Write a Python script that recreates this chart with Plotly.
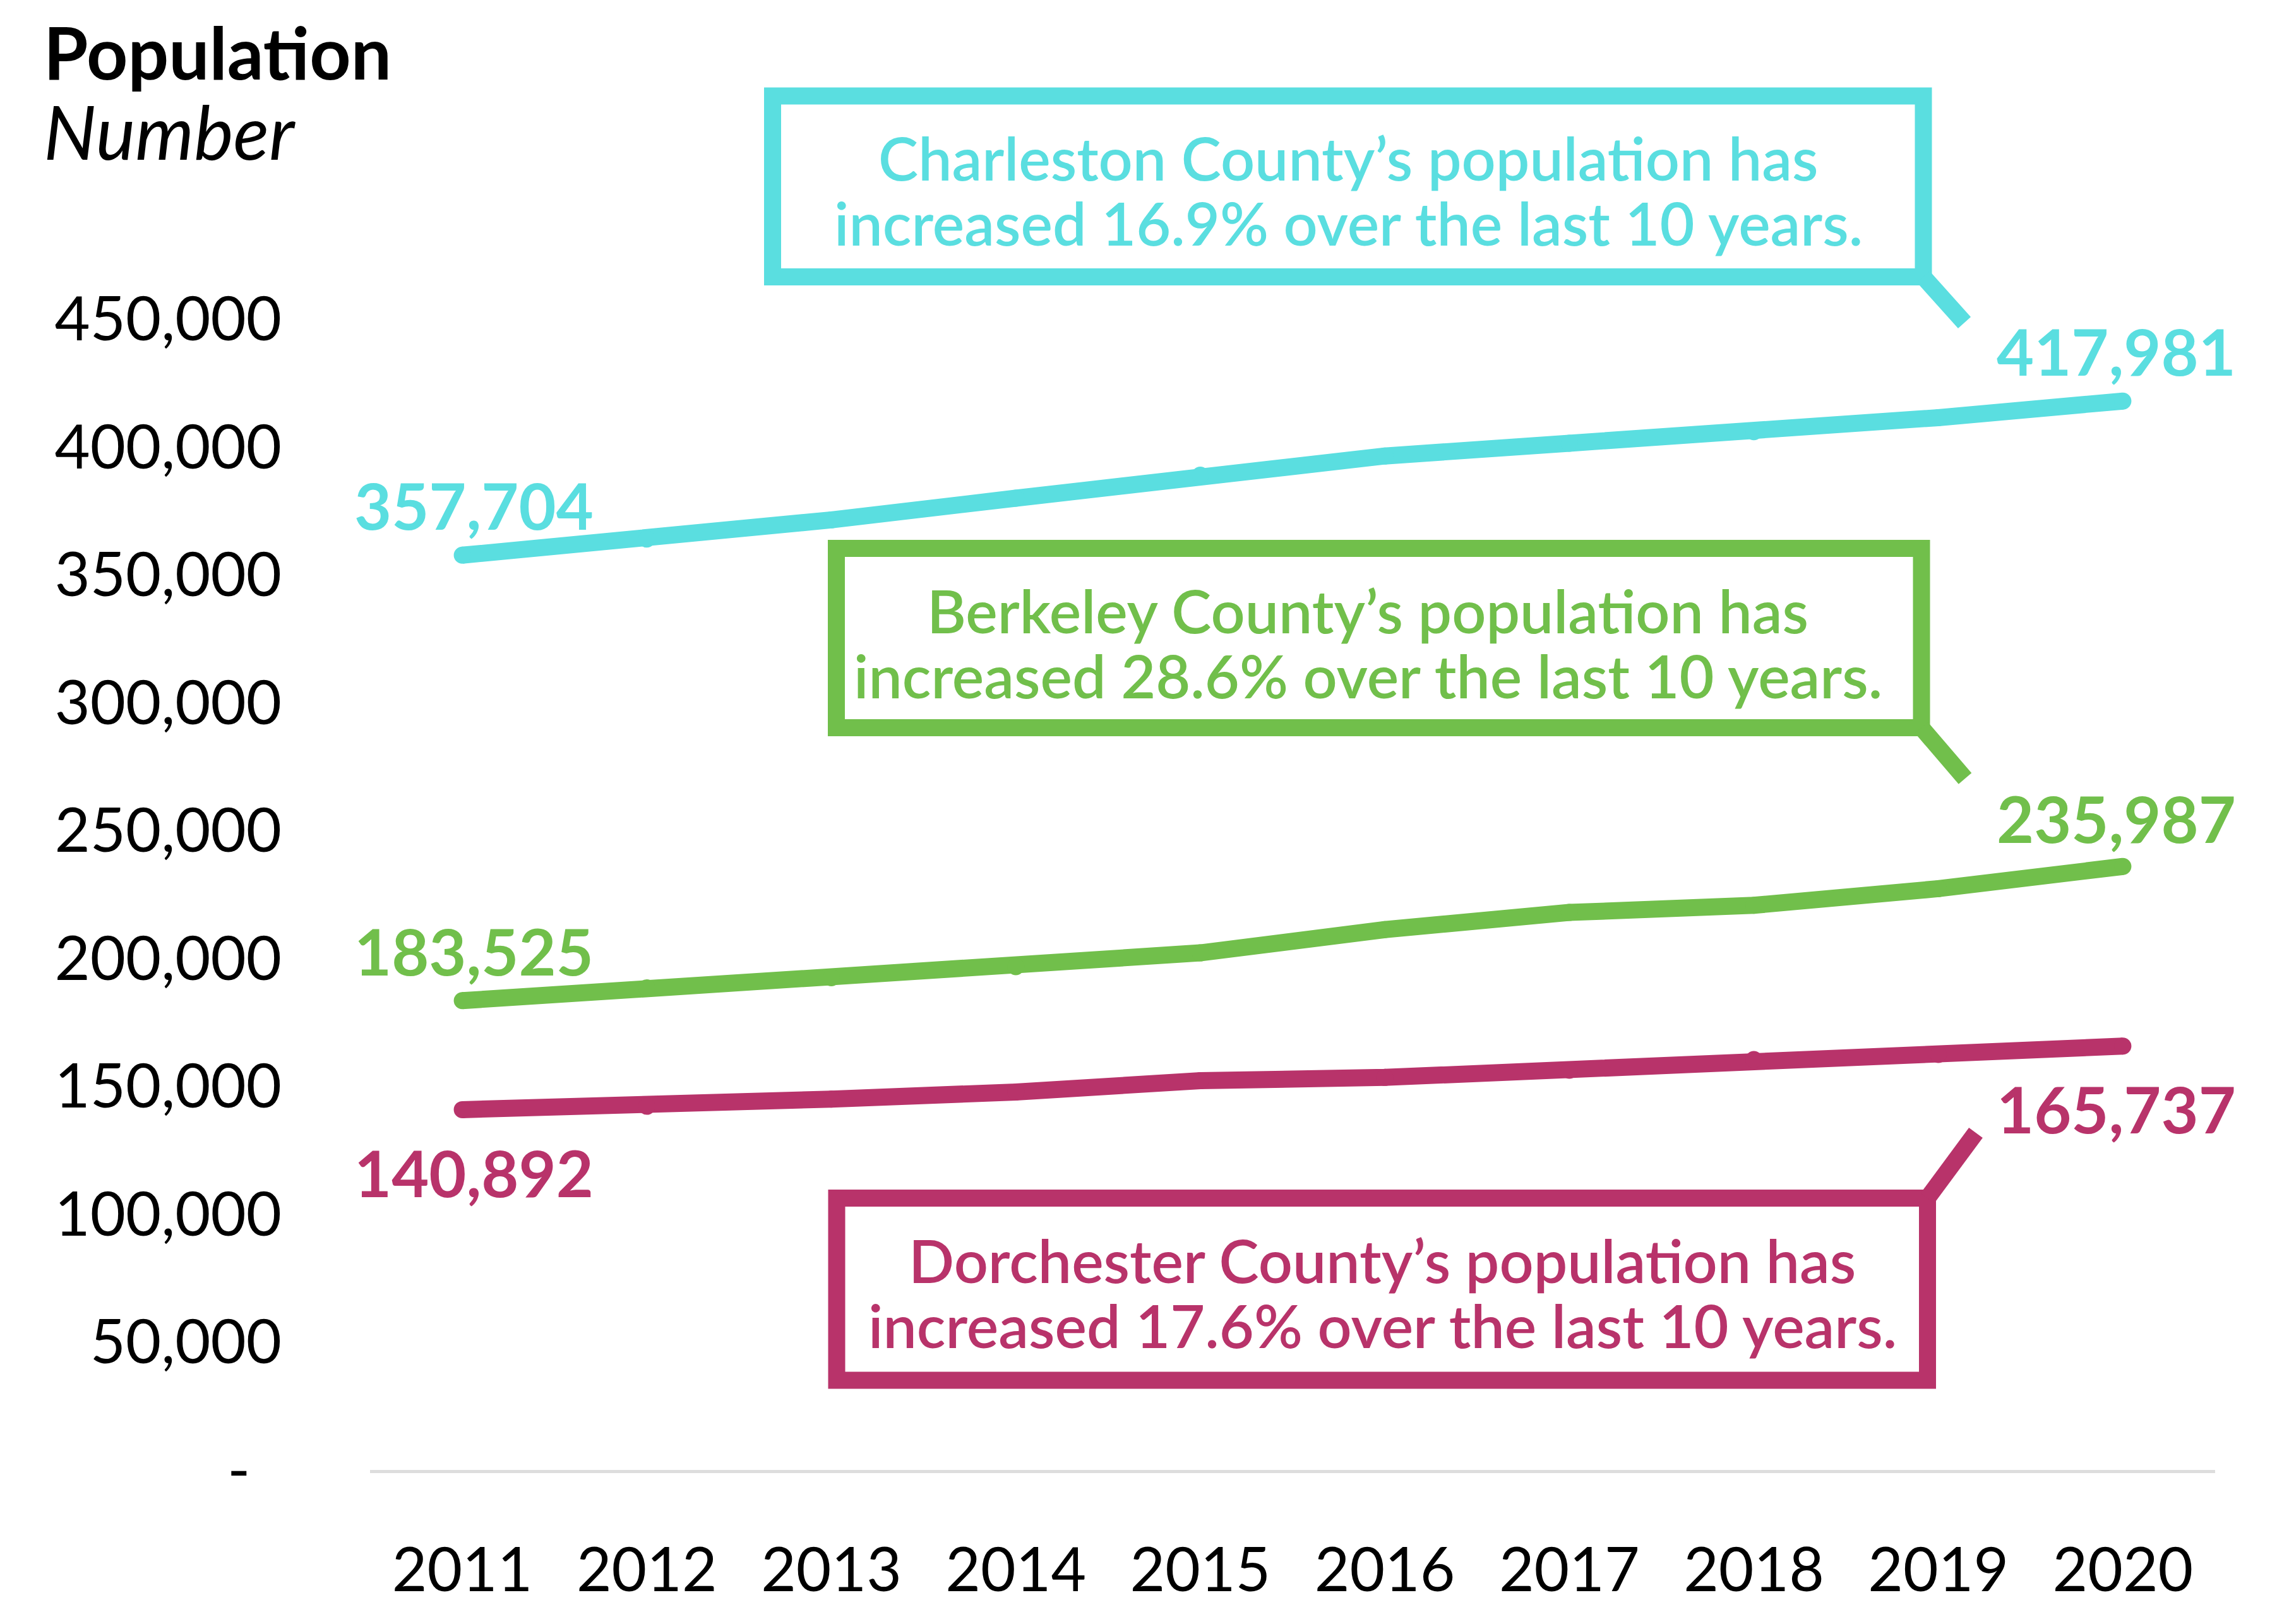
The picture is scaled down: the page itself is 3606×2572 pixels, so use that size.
import plotly.graph_objects as go

# ---------------- data ----------------
years = ["2011", "2012", "2013", "2014", "2015", "2016", "2017", "2018", "2019", "2020"]
charleston = [357704, 364000, 371500, 380000, 389000, 396500, 401500, 406000, 411500, 417981]
berkeley = [183525, 188500, 192500, 196800, 202200, 211300, 218000, 220800, 227300, 235987]
dorchester = [140892, 142200, 145000, 147800, 152200, 153500, 156300, 160500, 162500, 165737]

y_tickvals = [0, 50000, 100000, 150000, 200000, 250000, 300000, 350000, 400000, 450000]
y_ticktext = ["-\u00a0\u00a0", "50,000", "100,000", "150,000", "200,000", "250,000",
              "300,000", "350,000", "400,000", "450,000"]

series_names = ["Charleston County", "Berkeley County", "Dorchester County"]
callouts = [
    ["Charleston County\u2019s population has", "increased 16.9% over the last 10 years."],
    ["Berkeley County\u2019s population has", "increased 28.6% over the last 10 years."],
    ["Dorchester County\u2019s population has", "increased 17.6% over the last 10 years."],
]

# ---------------- styling ----------------
W, H = 3606, 2572
OFF = 8  # default page body margin
L, R, T, B = 586 - OFF, 98 + OFF, 303 - OFF, 244 + OFF
PW, PH = W - L - R, H - T - B
FONT = "Lato, 'Noto Sans', sans-serif"
colors = ["#5ADEE0", "#71BF4B", "#B8336A"]
LW = 27


def px_x(p):
    """page pixel x -> paper"""
    return (p - OFF - L) / PW


def px_y(p):
    """page pixel y -> paper"""
    return (H - B - (p - OFF)) / PH


fig = go.Figure()
all_series = [charleston, berkeley, dorchester]
for name, vals, col in zip(series_names, all_series, colors):
    fig.add_trace(go.Scatter(
        x=years, y=vals, name=name, mode="lines+markers",
        line=dict(color=col, width=LW),
        marker=dict(color=col, size=LW, line=dict(width=0)),
        hoverinfo="x+y", showlegend=False,
    ))

annotations = []
# end-point value labels (x given as category index)
label_shift = [(80, 80), (79, 77), (-99, -99)]
for vals, col, (ys0, ys1) in zip(all_series, colors, label_shift):
    for idx, xs, ys in [(0, 18, ys0), (len(years) - 1, -10, ys1)]:
        annotations.append(dict(
            x=idx, y=vals[idx], xref="x", yref="y",
            text=f"<b>{vals[idx]:,}</b>", showarrow=False,
            xshift=xs, yshift=ys, xanchor="center", yanchor="middle",
            font=dict(family=FONT, size=102, color=col),
        ))

# callout boxes (page-pixel geometry of the decoration)
boxes = [
    dict(x0=1223.5, x1=3046, y0=152, y1=438.5, tx=2135, ty1=249, ty2=352,
         ptr=((3046, 438.5), (3111, 511))),
    dict(x0=1324.5, x1=3043, y0=868.5, y1=1152.5, tx=2166, ty1=966, ty2=1069,
         ptr=((3043, 1152.5), (3112, 1233))),
    dict(x0=1325, x1=3052.5, y0=1897.5, y1=2186, tx=2189, ty1=1995, ty2=2098,
         ptr=((3052.5, 1897.5), (3129, 1794))),
]
shapes = []
for bx, col, lines in zip(boxes, colors, callouts):
    shapes.append(dict(
        type="rect", xref="paper", yref="paper",
        x0=px_x(bx["x0"]), x1=px_x(bx["x1"]), y0=px_y(bx["y1"]), y1=px_y(bx["y0"]),
        line=dict(color=col, width=LW), fillcolor="rgba(0,0,0,0)", layer="above",
    ))
    (a, b) = bx["ptr"]
    shapes.append(dict(
        type="line", xref="paper", yref="paper",
        x0=px_x(a[0]), y0=px_y(a[1]), x1=px_x(b[0]), y1=px_y(b[1]),
        line=dict(color=col, width=LW), layer="above",
    ))
    for txt, ty in zip(lines, [bx["ty1"], bx["ty2"]]):
        annotations.append(dict(
            x=px_x(bx["tx"]), y=px_y(ty), xref="paper", yref="paper",
            text=txt, showarrow=False, xanchor="center", yanchor="middle",
            font=dict(family=FONT, size=95, color=col, weight=600),
        ))

# title
annotations.append(dict(
    x=px_x(67), y=px_y(81), xref="paper", yref="paper", text="<b>Population</b>",
    showarrow=False, xanchor="left", yanchor="middle",
    font=dict(family=FONT, size=114, color="#000000"),
))
annotations.append(dict(
    x=px_x(67), y=px_y(208), xref="paper", yref="paper", text="<i>Number</i>",
    showarrow=False, xanchor="left", yanchor="middle",
    font=dict(family=FONT, size=118, color="#000000"),
))

fig.update_layout(
    width=W, height=H, autosize=False,
    margin=dict(l=L, r=R, t=T, b=B, pad=0),
    paper_bgcolor="white", plot_bgcolor="white",
    font=dict(family=FONT, color="#000000"),
    annotations=annotations, shapes=shapes,
    xaxis=dict(
        type="category", range=[-0.5, 9.5], showgrid=False, zeroline=False,
        showline=True, linecolor="#DDDDDD", linewidth=5, ticks="",
        tickfont=dict(family=FONT, size=96, color="#000000"),
        ticklabelstandoff=72, fixedrange=True,
    ),
    yaxis=dict(
        range=[0, 500000], showgrid=False, zeroline=False, showline=False,
        tickvals=y_tickvals, ticktext=y_ticktext, ticks="",
        tickfont=dict(family=FONT, size=97, color="#000000"),
        ticklabelstandoff=139, fixedrange=True,
    ),
)

fig.write_html("out.html", config={"displayModeBar": False})
